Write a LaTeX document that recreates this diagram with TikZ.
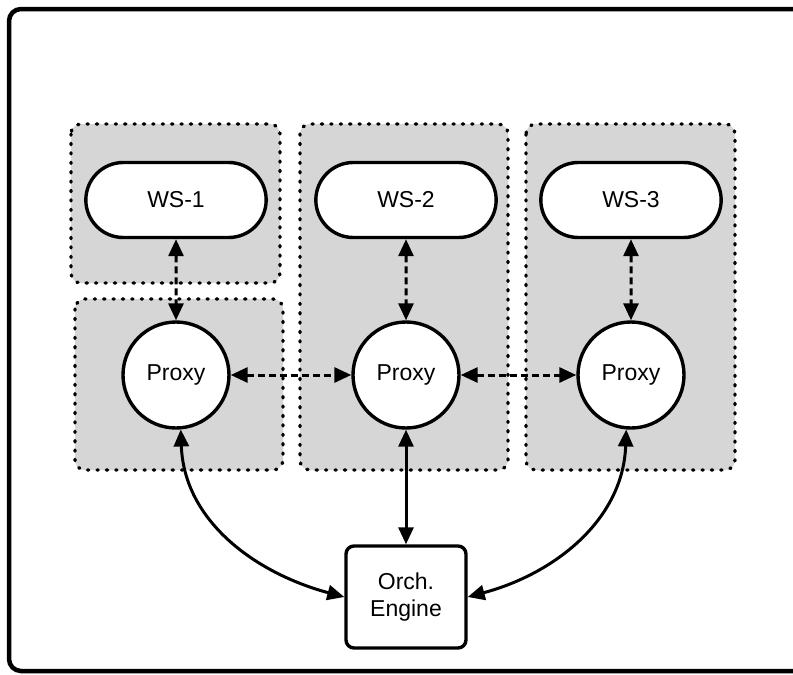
\documentclass[tikz,border=0pt]{standalone}
\usepackage{fontspec}
\setmainfont{Liberation Sans}
\usetikzlibrary{arrows.meta,shapes.misc}

\tikzset{
  zone/.style={fill=gray!32, draw=black, line width=3.4pt, line cap=round,
    dash pattern=on 1.2pt off 8.2pt, rounded corners=10pt},
  ws/.style={draw, fill=white, line width=3.4pt, rounded rectangle,
    minimum width=187pt, minimum height=75pt},
  proxy/.style={draw, fill=white, circle, line width=3.4pt, minimum size=106pt, inner sep=0pt},
  engine/.style={draw, fill=white, line width=3.4pt, rounded corners=8pt,
    minimum width=120pt, minimum height=102pt, align=center},
  link/.style={line width=3pt, {Triangle[length=17pt,width=15pt]}-{Triangle[length=17pt,width=15pt]}},
  dlink/.style={link, dash pattern=on 7pt off 4pt}
}

\begin{document}
\begin{tikzpicture}[x=1pt, y=-1pt, font=\fontsize{23}{27}\selectfont]

    \clip (0,0) rectangle (793,675);

    % frame
    \draw[line width=4.5pt, rounded corners=12pt] (9,9) rectangle (820,671);

    % zones
    \draw[zone] (71,124) rectangle (280,283);
    \draw[zone] (75,299) rectangle (283,470);
    \draw[zone] (300,124) rectangle (508,470);
    \draw[zone] (526,124) rectangle (735,470);

    % services
    \node[ws] (ws1) at (176,200) {WS-1};
    \node[ws] (ws2) at (406,200) {WS-2};
    \node[ws] (ws3) at (631,200) {WS-3};

    % proxies
    \node[proxy] (p1) at (176,375) {Proxy};
    \node[proxy] (p2) at (406,375) {Proxy};
    \node[proxy] (p3) at (631,375) {Proxy};

    % engine
    \node[engine] (orch) at (406,597) {Orch.\\Engine};

    % links
    \draw[dlink] (ws1) -- (p1);
    \draw[dlink] (ws2) -- (p2);
    \draw[dlink] (ws3) -- (p3);
    \draw[dlink] (p1) -- (p2);
    \draw[dlink] (p2) -- (p3);

    \draw[link] (p2) -- (orch);
    \draw[link] (p1.-85) to[out=-88, in=165] (orch.west);
    \draw[link] (p3.-95) to[out=-92, in=15] (orch.east);

\end{tikzpicture}
\end{document}
